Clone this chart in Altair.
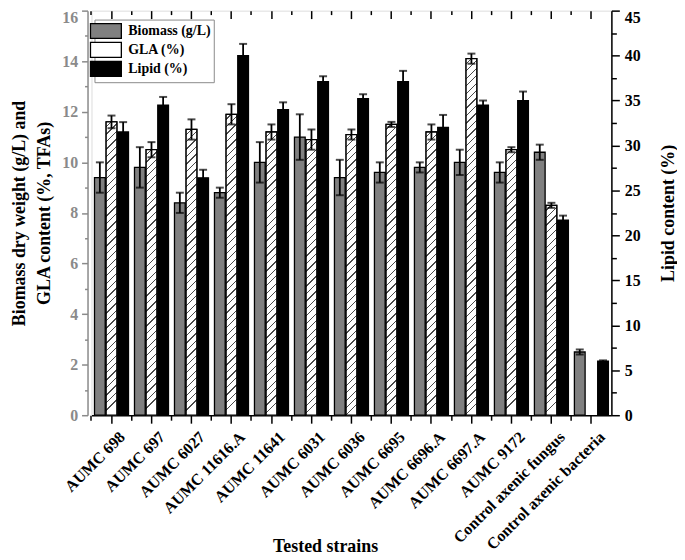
import altair as alt
import pandas as pd

strains = ["AUMC 698", "AUMC 697", "AUMC 6027", "AUMC 11616.A", "AUMC 11641",
           "AUMC 6031", "AUMC 6036", "AUMC 6695", "AUMC 6696.A", "AUMC 6697.A",
           "AUMC 9172", "Control axenic fungus", "Control axenic bacteria"]
series = ["Biomass (g/L)", "GLA (%)", "Lipid (%)"]
biomass = [9.4, 9.8, 8.4, 8.8, 10.0, 11.0, 9.4, 9.6, 9.8, 10.0, 9.6, 10.4, 2.5]
biomass_err = [0.6, 0.8, 0.4, 0.2, 0.8, 0.9, 0.7, 0.4, 0.2, 0.5, 0.4, 0.3, 0.1]
gla = [11.6, 10.5, 11.3, 11.9, 11.2, 10.9, 11.1, 11.5, 11.2, 14.1, 10.5, 8.3, 0.0]
gla_err = [0.25, 0.3, 0.4, 0.4, 0.3, 0.4, 0.2, 0.1, 0.3, 0.2, 0.1, 0.1, 0.0]
lipid = [31.5, 34.5, 26.4, 40.0, 34.0, 37.1, 35.2, 37.1, 32.0, 34.5, 35.0, 21.7, 6.0]
lipid_err = [1.1, 0.9, 0.9, 1.3, 0.8, 0.6, 0.5, 1.2, 1.4, 0.5, 1.0, 0.5, 0.1]
left_ticks = [0, 2, 4, 6, 8, 10, 12, 14, 16]
left_minor = [1, 3, 5, 7, 9, 11, 13, 15]
right_ticks = [0, 5, 10, 15, 20, 25, 30, 35, 40, 45]
right_minor = [2.5, 7.5, 12.5, 17.5, 22.5, 27.5, 32.5, 37.5, 42.5]

W, H = 523, 407
FONT = "Liberation Serif"
GRAY = "#808080"
AXGRAY = "#8a8a8a"
PAD_IN = 0.15
OFF_PAD = 0.08

# ---- tables ----
rows_left = []
for i, s in enumerate(strains):
    rows_left.append(dict(strain=s, series=series[0], value=biomass[i],
                          lo=biomass[i] - biomass_err[i], hi=biomass[i] + biomass_err[i]))
    if gla[i] > 0:
        rows_left.append(dict(strain=s, series=series[1], value=gla[i],
                              lo=gla[i] - gla_err[i], hi=gla[i] + gla_err[i]))
df_left = pd.DataFrame(rows_left)
df_lip = pd.DataFrame(dict(strain=strains, series=series[2], value=lipid,
                           lo=[v - e for v, e in zip(lipid, lipid_err)],
                           hi=[v + e for v, e in zip(lipid, lipid_err)]))

# ---- hatch gradient (diagonal "/" stripes) ----
step = W / len(strains)
band_w = step * (1 - PAD_IN)
bar_w = band_w / (3 - OFF_PAD) * (1 - OFF_PAD)
px_per_unit = H / 16.0


def hatch(w, h, period=7.5, lw=1.3, color="#4a4a4a"):
    a = w / h
    sc = h * (1 + a * a)
    stops = [alt.GradientStop(offset=0, color="white")]
    k = 0.6
    while True:
        t0 = k * period / sc
        if t0 >= 1:
            break
        t1 = min(t0 + lw / sc, 1)
        stops += [alt.GradientStop(offset=t0, color="white"),
                  alt.GradientStop(offset=t0, color=color),
                  alt.GradientStop(offset=t1, color=color),
                  alt.GradientStop(offset=t1, color="white")]
        k += 1
    return alt.LinearGradient(gradient="linear", x1=0, y1=0, x2=a, y2=1, stops=stops)


# ---- scales & encodings ----
xscale = alt.Scale(domain=strains, paddingInner=PAD_IN, paddingOuter=PAD_IN / 2)
xoscale = alt.Scale(domain=series, paddingInner=OFF_PAD, paddingOuter=0)
ysL = alt.Scale(domain=[0, 16], nice=False, zero=True)
ysR = alt.Scale(domain=[0, 45], nice=False, zero=True)


def X(axis=None):
    return alt.X("strain:N", sort=strains, scale=xscale, axis=axis)


XO = alt.XOffset("series:N", sort=series, scale=xoscale)


def YL(field="value", axis=None):
    return alt.Y(f"{field}:Q", scale=ysL, axis=axis)


def YR(field="value", axis=None):
    return alt.Y(f"{field}:Q", scale=ysR, axis=axis)


MINOR_BP = -PAD_IN / (2 * (1 - PAD_IN))
bottom_axis = alt.Axis(orient="bottom", labelAngle=315, labelAlign="right", labelBaseline="middle",
                       labelFontSize=16, labelFontWeight="bold", labelColor="black",
                       labelPadding=11, labelOffset=11, labelOverlap=False, labelBound=False,
                       tickSize=8, tickWidth=1.5, tickColor="black",
                       domainColor="black", domainWidth=1.5, title="Tested strains",
                       titleFontSize=18, titleFontWeight="bold", titleX=235, titleY=132,
                       titleAlign="center", titleBaseline="middle")
bottom_minor = alt.Axis(orient="bottom", bandPosition=MINOR_BP, labels=False,
                        domain=False, tickSize=5, tickWidth=1.5, tickColor="black", title=None)
top_major = alt.Axis(orient="top", offset=-8, labels=False, domain=False, tickSize=8,
                     tickWidth=1.5, tickColor="black", title=None)
top_minor = alt.Axis(orient="top", offset=-4, bandPosition=MINOR_BP,
                     labels=False, domain=False, tickSize=4, tickWidth=1.5, tickColor="black",
                     title=None)

left_axis = alt.Axis(orient="left", values=left_ticks, offset=4, tickSize=6, tickWidth=1.5,
                     tickColor=AXGRAY, domainColor=AXGRAY, domainWidth=1.5, labelColor=AXGRAY,
                     labelFontSize=16, labelFontWeight="bold", labelPadding=4, grid=False,
                     labelExpr="datum.value == 16 ? '' : datum.label",
                     title=["Biomass dry weight (g/L) and", "GLA content (%, TFAs)"],
                     titleFontSize=18, titleFontWeight="bold", titleColor="black",
                     titleAngle=270, titleLineHeight=25, titlePadding=8)
left_top_label = alt.Axis(orient="left", values=[16], offset=4, ticks=False, domain=False,
                          labelColor=AXGRAY, labelFontSize=16, labelFontWeight="bold",
                          labelPadding=10, labelBaseline="top", labelOffset=-1, grid=False,
                          title=None)
left_minor_axis = alt.Axis(orient="left", values=left_minor, offset=4, tickSize=3, tickWidth=1.5,
                           tickColor=AXGRAY, domain=False, labels=False, grid=False, title=None)
right_axis = alt.Axis(orient="right", values=right_ticks, tickSize=8, tickWidth=1.5,
                      tickColor="black", domainColor="black", domainWidth=1.5, labelColor="black",
                      labelFontSize=16, labelFontWeight="bold", labelPadding=5, grid=False,
                      labelExpr="datum.value == 45 ? '' : datum.label",
                      title="Lipid content (%)", titleFontSize=18, titleFontWeight="bold",
                      titleColor="black", titleAngle=270, titleBaseline="middle", titleX=57)
right_top_label = alt.Axis(orient="right", values=[45], ticks=False, domain=False,
                           labelColor="black", labelFontSize=16, labelFontWeight="bold",
                           labelPadding=13, labelBaseline="top", labelOffset=-1, grid=False,
                           title=None)
right_minor_axis = alt.Axis(orient="right", values=right_minor, tickSize=5, tickWidth=1.5,
                            tickColor="black", domain=False, labels=False, grid=False, title=None)

legend = alt.Legend(orient="none", legendX=3, legendY=9, title=None,
                    symbolType="M-2.07,-1H2.07V1H-2.07Z", symbolSize=225,
                    symbolStrokeColor="black", symbolStrokeWidth=1.3, symbolOpacity=1,
                    labelFont=FONT, labelFontSize=14, labelFontWeight="bold", labelColor="black",
                    labelOffset=14, rowPadding=-4, padding=3, strokeColor=AXGRAY, fillColor="white")

# ---- layers ----
bars_left = alt.Chart(df_left).mark_bar(stroke="black", strokeWidth=1.3).encode(
    x=X(bottom_axis), xOffset=XO, y=YL(axis=left_axis),
    color=alt.Color("series:N", scale=alt.Scale(domain=series, range=[GRAY, "white", "black"]),
                    legend=legend))

hatch_layers = []
for i, s in enumerate(strains):
    if gla[i] <= 0:
        continue
    g = hatch(bar_w, gla[i] * px_per_unit)
    d = df_left[(df_left.strain == s) & (df_left.series == series[1])]
    hatch_layers.append(alt.Chart(d).mark_bar(fill=g, stroke="black", strokeWidth=1.3).encode(
        x=X(), xOffset=XO, y=YL()))

bars_lip = alt.Chart(df_lip).mark_bar(fill="black", stroke="black", strokeWidth=1.3).encode(
    x=X(), xOffset=XO, y=YR(axis=right_axis))

err_l = alt.Chart(df_left).mark_rule(color="black", strokeWidth=1.8).encode(
    x=X(), xOffset=XO, y=YL("lo"), y2="hi:Q")
cap_l_hi = alt.Chart(df_left).mark_tick(color="black", thickness=2, size=8).encode(
    x=X(), xOffset=XO, y=YL("hi"))
cap_l_lo = alt.Chart(df_left).mark_tick(color="black", thickness=2, size=8).encode(
    x=X(), xOffset=XO, y=YL("lo"))
err_r = alt.Chart(df_lip).mark_rule(color="black", strokeWidth=1.8).encode(
    x=X(), xOffset=XO, y=YR("lo"), y2="hi:Q")
cap_r_hi = alt.Chart(df_lip).mark_tick(color="black", thickness=2, size=8).encode(
    x=X(), xOffset=XO, y=YR("hi"))
cap_r_lo = alt.Chart(df_lip).mark_tick(color="black", thickness=2, size=8).encode(
    x=X(), xOffset=XO, y=YR("lo"))

ax_a = alt.Chart(df_left).mark_point(opacity=0).encode(x=X(top_major), y=YL(axis=left_minor_axis))
ax_b = alt.Chart(df_lip).mark_point(opacity=0).encode(x=X(top_minor), y=YR(axis=right_minor_axis))
ax_c = alt.Chart(df_left).mark_point(opacity=0).encode(x=X(bottom_minor), y=YL(axis=left_top_label))
ax_d = alt.Chart(df_lip).mark_point(opacity=0).encode(x=X(), y=YR(axis=right_top_label))

chart = alt.layer(
    bars_left, *hatch_layers, bars_lip, err_l, cap_l_hi, cap_l_lo, err_r, cap_r_hi, cap_r_lo,
    ax_a, ax_b, ax_c, ax_d
).resolve_scale(y="independent").resolve_axis(x="independent", y="independent").properties(
    width=W, height=H,
    autosize=alt.AutoSizeParams(type="none"),
    padding={"left": 84, "top": 1, "right": 66, "bottom": 143},
).configure_view(stroke="black", strokeWidth=1.5).configure_axis(
    labelFont=FONT, titleFont=FONT
).configure(font=FONT)

chart.save("out.html", embed_options={"renderer": "svg", "actions": False})
